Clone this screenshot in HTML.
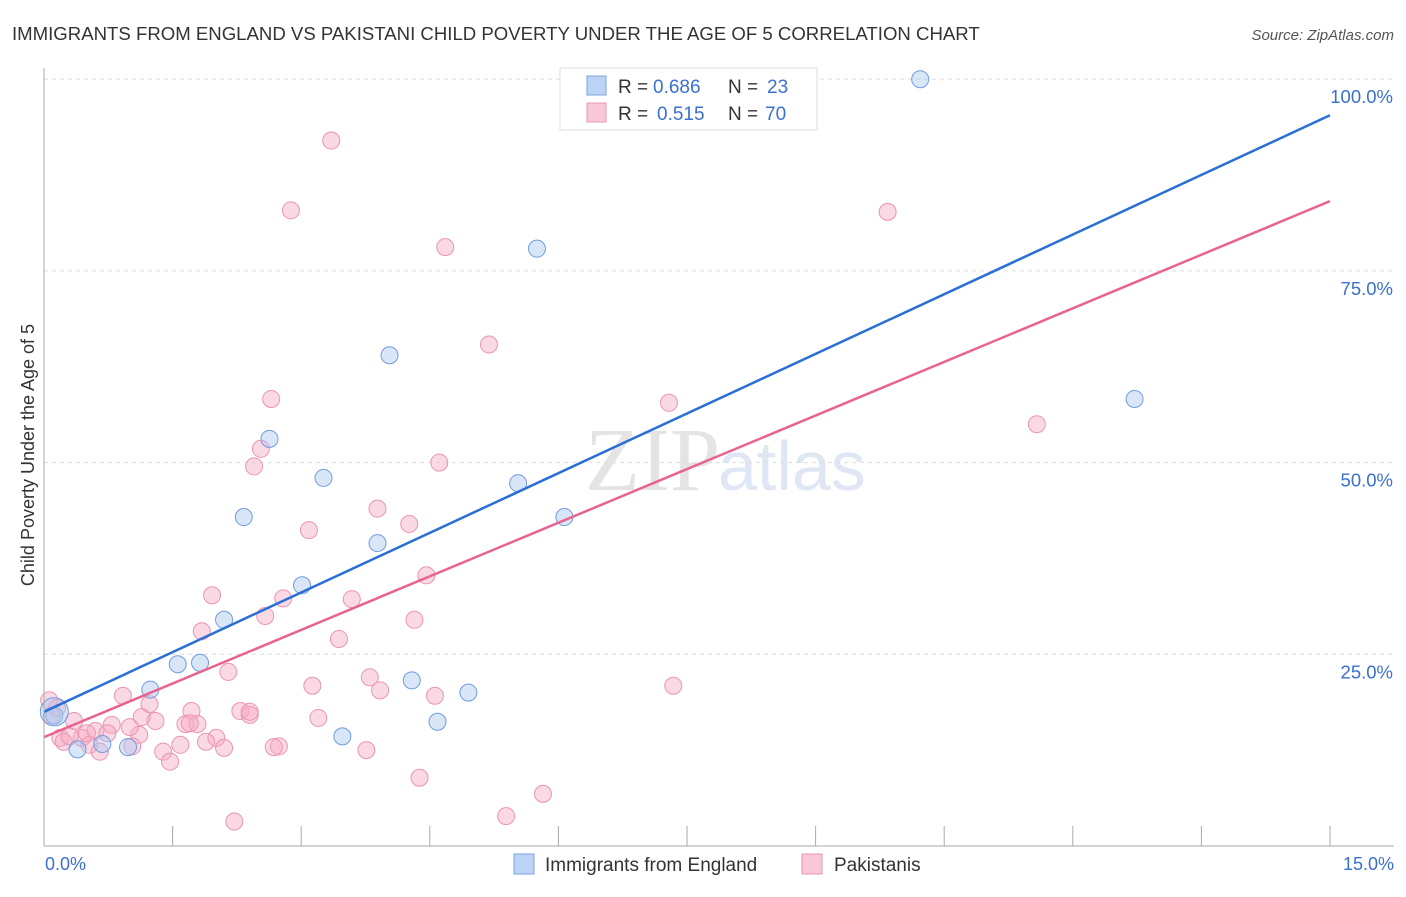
<!DOCTYPE html>
<html><head><meta charset="utf-8"><style>
body{margin:0;background:#fff;font-family:"Liberation Sans",sans-serif}
</style></head><body>
<svg id="c" width="1406" height="892" xmlns="http://www.w3.org/2000/svg">
<text x="12" y="40" font-size="18.6" fill="#333">IMMIGRANTS FROM ENGLAND VS PAKISTANI CHILD POVERTY UNDER THE AGE OF 5 CORRELATION CHART</text>
<text x="1394" y="40" font-size="15" fill="#555" font-style="italic" text-anchor="end">Source: ZipAtlas.com</text>
<text x="34" y="455" font-size="18" fill="#333" text-anchor="middle" transform="rotate(-90 34 455)">Child Poverty Under the Age of 5</text>
<text x="720" y="490" font-size="90" fill="#e4e4e4" text-anchor="end" font-family="Liberation Serif">ZIP</text>
<text x="718" y="490" font-size="70" fill="#dfe7f5">atlas</text>
<g id="grid"></g><g id="pts"></g><g id="lines"></g>
<line x1="44" y1="68" x2="44" y2="846" stroke="#aaa"/>
<line x1="44" y1="846" x2="1394" y2="846" stroke="#aaa"/>
<text x="45" y="870" font-size="18" fill="#3a70d0">0.0%</text>
<text x="1394" y="870" font-size="18" fill="#3a70d0" text-anchor="end">15.0%</text>
<g>
<rect x="560" y="68" width="257" height="62" fill="#fff" stroke="#ddd"/>
<rect x="587" y="76" width="19" height="19" fill="#bcd3f5" stroke="#7aa3e0"/>
<rect x="587" y="103" width="19" height="19" fill="#f9c9d8" stroke="#eb94b2"/>
<text x="618" y="93" font-size="19" fill="#333">R =</text><text x="653" y="93" font-size="19" fill="#3a70d0">0.686</text>
<text x="728" y="93" font-size="19" fill="#333">N =</text><text x="767" y="93" font-size="19" fill="#3a70d0">23</text>
<text x="618" y="120" font-size="19" fill="#333">R =</text><text x="657" y="120" font-size="19" fill="#3a70d0">0.515</text>
<text x="728" y="120" font-size="19" fill="#333">N =</text><text x="765" y="120" font-size="19" fill="#3a70d0">70</text>
</g>
<g>
<rect x="514" y="854" width="20" height="20" fill="#bcd3f5" stroke="#7aa3e0"/>
<text x="545" y="871" font-size="19" fill="#333">Immigrants from England</text>
<rect x="802" y="854" width="20" height="20" fill="#f9c9d8" stroke="#eb94b2"/>
<text x="834" y="871" font-size="19" fill="#333">Pakistanis</text>
</g>
</svg>
<script>
const yTicks=[25,50,75,100];
const blueX=[10.22,5.75,4.03,12.72,2.63,3.26,5.53,2.33,6.07,3.89,3.01,2.1,1.56,1.82,1.24,4.29,4.95,3.48,4.59,0.98,0.68,0.39,0.12,0.12];
const blueY=[100,77.9,64,58.3,53.1,48,47.3,42.9,42.9,39.5,34,29.5,23.7,23.9,20.4,21.6,20,14.3,16.2,12.9,13.3,12.6,17,17.5];
const pinkX=[3.35,2.88,4.68,9.84,5.19,7.29,2.65,11.58,2.53,2.45,4.61,3.89,4.26,3.09,4.46,1.96,2.79,3.59,2.58,4.32,1.84,3.44,2.15,3.80,3.13,4.56,7.34,3.92,0.92,1.23,1.72,2.29,2.40,3.20,1.14,1.30,1.65,1.79,0.79,0.35,0.60,0.74,1.11,0.19,0.44,0.53,2.01,1.89,1.59,1.03,2.74,2.68,2.10,1.39,3.76,0.65,1.47,4.38,5.82,5.39,2.22,0.06,0.23,0.09,0.30,0.50,1.00,1.70,2.40,0.15];
const pinkY=[92,82.9,78.1,82.7,65.4,57.8,58.3,55,51.8,49.5,50,44,42,41.2,35.3,32.7,32.3,32.2,30,29.5,28,27,22.7,22,20.9,19.6,20.9,20.3,19.6,18.5,17.6,17.6,17.1,16.7,16.8,16.3,15.9,15.9,15.8,16.3,15,14.7,14.5,14.1,14.1,13.2,14.1,13.6,13.2,13,13,12.9,12.8,12.3,12.5,12.3,11,8.9,6.8,3.9,3.2,19,13.6,17,14.3,14.7,15.5,16,17.5,18];
const blueLine=[17.5,95.3], pinkLine=[14.2,84.1];
const X=v=>44+v/15*1286, Y=v=>846-v*7.668;
const NS="http://www.w3.org/2000/svg";
function mk(t,a,p){const e=document.createElementNS(NS,t);for(const k in a)e.setAttribute(k,a[k]);document.getElementById(p).appendChild(e);return e;}
yTicks.forEach(t=>{const l=mk('line',{x1:44,x2:1394,y1:Y(t),y2:Y(t),stroke:'#ddd','stroke-dasharray':'4,4'},'grid');


const tx=mk('text',{x:1393,y:Y(t)+24,'font-size':18.5,fill:'#3a70d0','text-anchor':'end'},'grid');tx.textContent=t.toFixed(1)+'%';

});
for(let i=1;i<=10;i++){const l=mk('line',{x1:X(i*1.5),x2:X(i*1.5),y1:826,y2:846,stroke:'#aaa'},'grid');

}
pinkX.forEach((x,i)=>{const c=mk('circle',{cx:X(x),cy:Y(pinkY[i]),r:8.5,fill:'rgba(246,170,195,0.45)',stroke:'#eb94b2','stroke-width':1},'pts');

});
blueX.forEach((x,i)=>{const c=mk('circle',{cx:X(x),cy:Y(blueY[i]),r:i==23?14:8.5,fill:'rgba(170,200,240,0.45)',stroke:'#6f9ce0','stroke-width':1},'pts');

});
const bl=mk('line',{x1:X(0),y1:Y(blueLine[0]),x2:X(15),y2:Y(blueLine[1]),stroke:'#2a6fd6','stroke-width':2.5},'lines');


const pl=mk('line',{x1:X(0),y1:Y(pinkLine[0]),x2:X(15),y2:Y(pinkLine[1]),stroke:'#e8638f','stroke-width':2.5},'lines');


</script>
</body></html>
